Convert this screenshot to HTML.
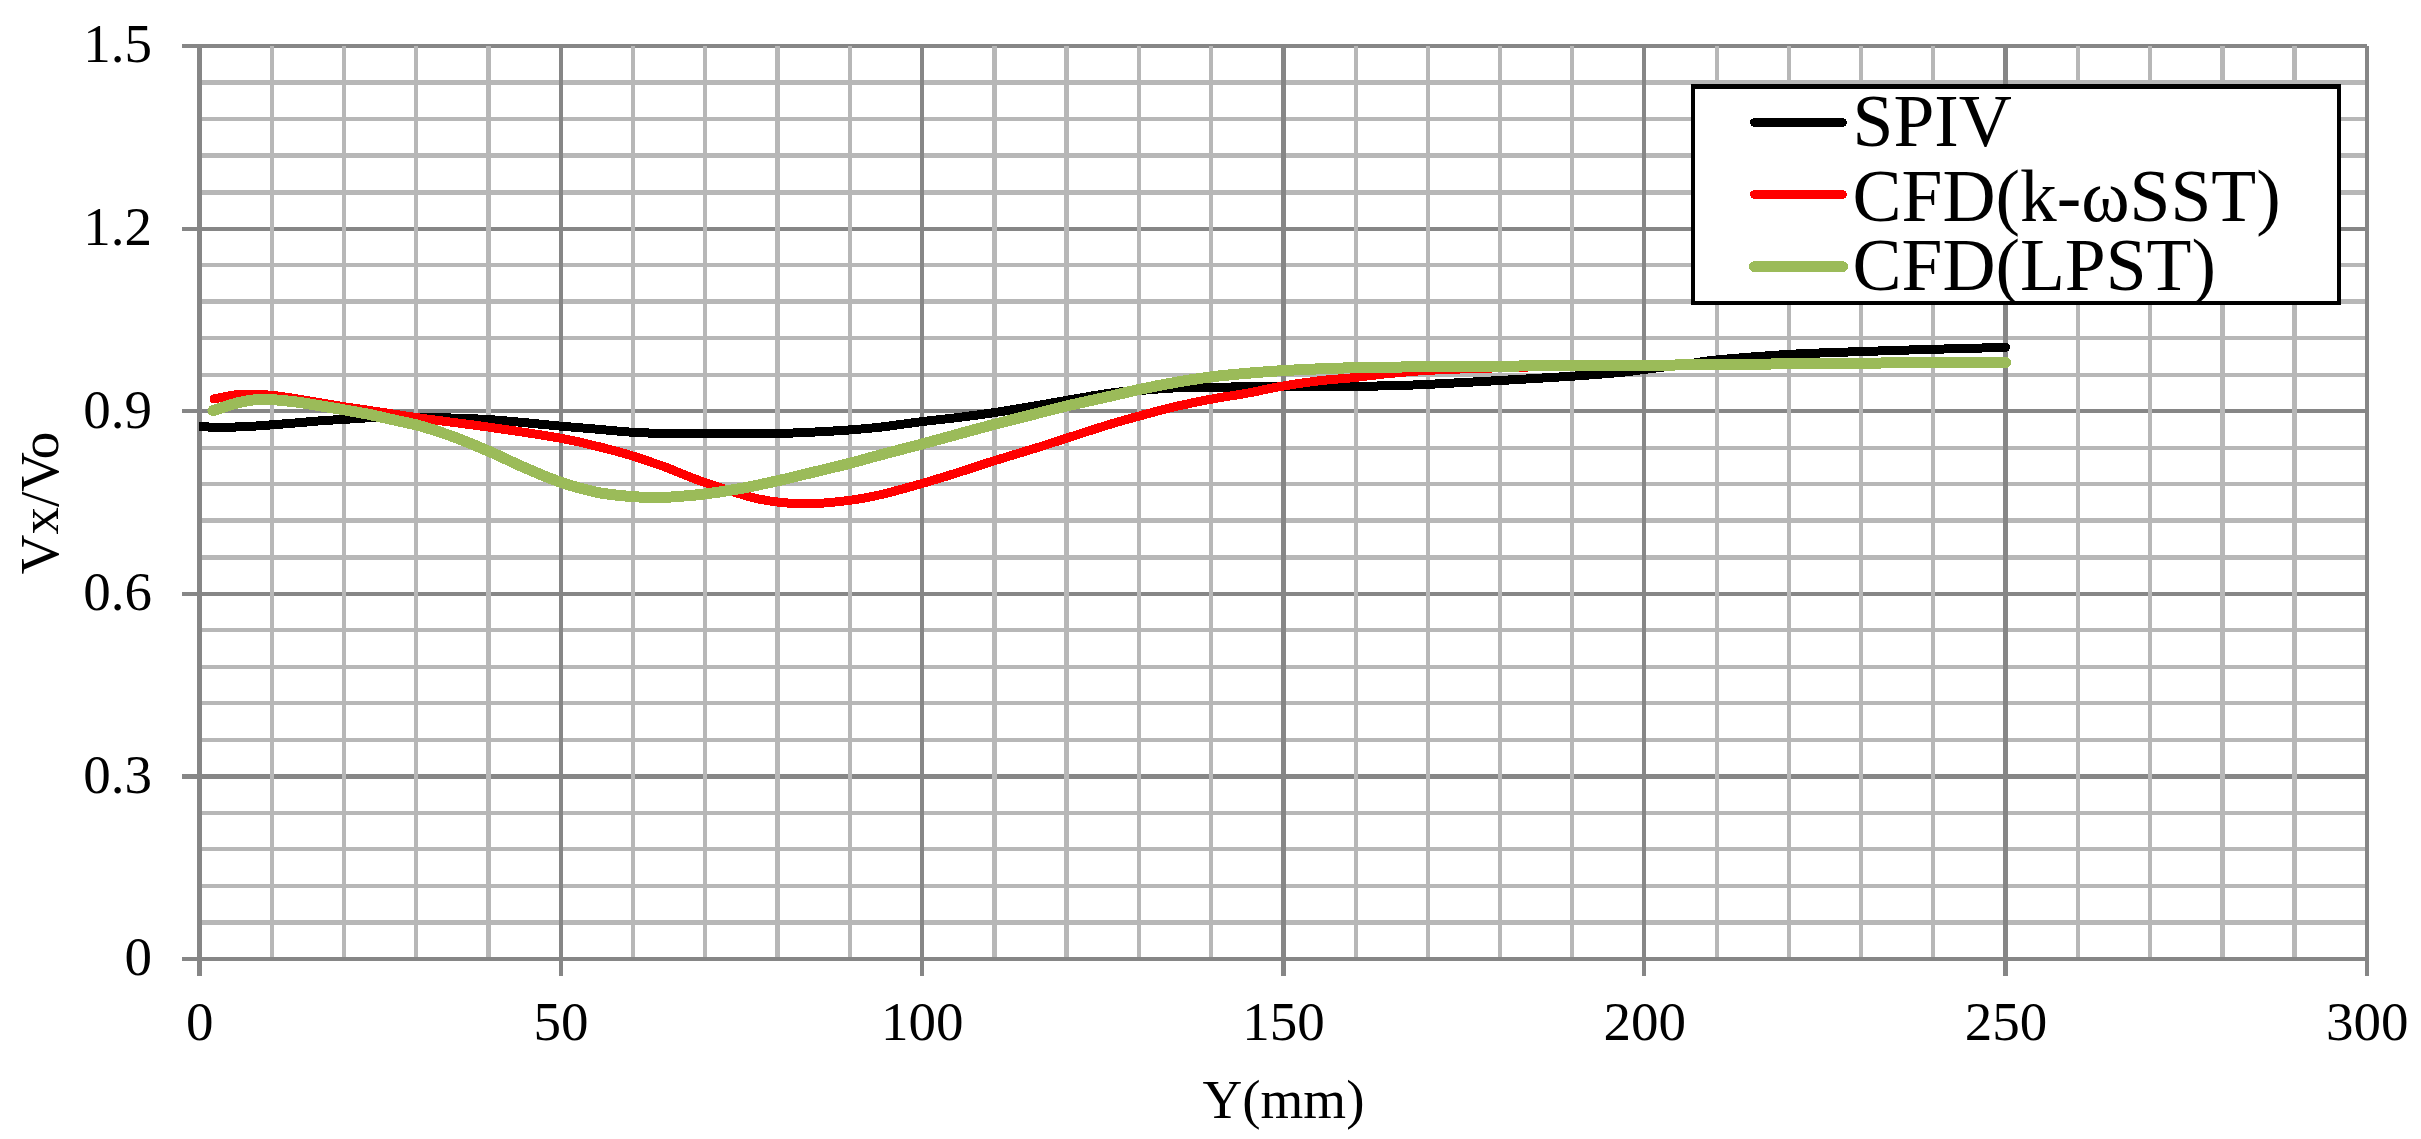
<!DOCTYPE html>
<html lang="en"><head><meta charset="utf-8"><title>Vx/Vo vs Y(mm)</title>
<style>html,body{margin:0;padding:0;background:#fff;}body{width:2421px;height:1139px;overflow:hidden;}svg{display:block;}text{font-family:"Liberation Serif",serif;fill:#000;}</style></head><body>
<svg width="2421" height="1139" viewBox="0 0 2421 1139">
<rect width="2421" height="1139" fill="#fff"/>
<g shape-rendering="crispEdges">
<g fill="#b7b7b7"><rect x="199" y="80" width="2168" height="5"/><rect x="199" y="117" width="2168" height="4"/><rect x="199" y="153" width="2168" height="5"/><rect x="199" y="190" width="2168" height="5"/><rect x="199" y="263" width="2168" height="4"/><rect x="199" y="299" width="2168" height="5"/><rect x="199" y="336" width="2168" height="4"/><rect x="199" y="373" width="2168" height="4"/><rect x="199" y="446" width="2168" height="4"/><rect x="199" y="482" width="2168" height="4"/><rect x="199" y="518" width="2168" height="5"/><rect x="199" y="555" width="2168" height="5"/><rect x="199" y="628" width="2168" height="4"/><rect x="199" y="665" width="2168" height="4"/><rect x="199" y="701" width="2168" height="4"/><rect x="199" y="738" width="2168" height="4"/><rect x="199" y="811" width="2168" height="4"/><rect x="199" y="847" width="2168" height="4"/><rect x="199" y="884" width="2168" height="4"/><rect x="199" y="920" width="2168" height="5"/></g>
<g fill="#868686"><rect x="182" y="44" width="2185" height="4"/><rect x="182" y="227" width="2185" height="4"/><rect x="182" y="409" width="2185" height="4"/><rect x="182" y="592" width="2185" height="4"/><rect x="182" y="774" width="2185" height="5"/><rect x="182" y="957" width="2185" height="4"/></g>
<g fill="#b7b7b7"><rect x="270" y="46" width="4" height="913"/><rect x="342" y="46" width="4" height="913"/><rect x="414" y="46" width="4" height="913"/><rect x="486" y="46" width="5" height="913"/><rect x="631" y="46" width="4" height="913"/><rect x="703" y="46" width="4" height="913"/><rect x="775" y="46" width="5" height="913"/><rect x="848" y="46" width="4" height="913"/><rect x="992" y="46" width="5" height="913"/><rect x="1064" y="46" width="5" height="913"/><rect x="1137" y="46" width="4" height="913"/><rect x="1209" y="46" width="4" height="913"/><rect x="1354" y="46" width="4" height="913"/><rect x="1426" y="46" width="4" height="913"/><rect x="1498" y="46" width="4" height="913"/><rect x="1570" y="46" width="4" height="913"/><rect x="1715" y="46" width="4" height="913"/><rect x="1787" y="46" width="4" height="913"/><rect x="1859" y="46" width="4" height="913"/><rect x="1931" y="46" width="4" height="913"/><rect x="2076" y="46" width="4" height="913"/><rect x="2148" y="46" width="4" height="913"/><rect x="2220" y="46" width="5" height="913"/><rect x="2292" y="46" width="5" height="913"/></g>
<g fill="#868686"><rect x="197" y="44" width="5" height="932"/><rect x="559" y="46" width="4" height="930"/><rect x="920" y="46" width="4" height="930"/><rect x="1281" y="46" width="5" height="930"/><rect x="1642" y="46" width="4" height="930"/><rect x="2003" y="46" width="5" height="930"/><rect x="2365" y="46" width="4" height="930"/><rect x="199" y="957" width="2168" height="4"/></g>
</g>
<defs><clipPath id="plot"><rect x="199" y="46" width="2170" height="913"/></clipPath></defs>
<g fill="none" stroke-linecap="round" stroke-linejoin="round" clip-path="url(#plot)" shape-rendering="crispEdges">
<path stroke="#000" stroke-width="9" d="M199.50,426.50C203.18,426.65 212.65,427.45 221.60,427.40C230.55,427.35 244.77,426.63 253.20,426.20C261.63,425.77 265.17,425.33 272.20,424.80C279.23,424.27 287.33,423.67 295.40,423.00C303.47,422.33 312.53,421.40 320.60,420.80C328.67,420.20 335.72,419.90 343.80,419.40C351.88,418.90 360.57,418.20 369.10,417.80C377.63,417.40 386.52,417.10 395.00,417.00C403.48,416.90 404.42,416.77 420.00,417.20C435.58,417.63 464.97,418.10 488.50,419.60C512.03,421.10 543.12,424.60 561.20,426.20C579.28,427.80 585.07,428.18 597.00,429.20C608.93,430.22 622.30,431.62 632.80,432.30C643.30,432.98 648.00,433.07 660.00,433.30C672.00,433.53 691.53,433.62 704.80,433.70C718.07,433.78 727.48,433.83 739.60,433.80C751.72,433.77 765.22,433.78 777.50,433.50C789.78,433.22 801.18,432.70 813.30,432.10C825.42,431.50 839.08,430.72 850.20,429.90C861.32,429.08 868.02,428.58 880.00,427.20C891.98,425.82 908.93,423.23 922.10,421.60C935.27,419.97 946.88,418.92 959.00,417.40C971.12,415.88 981.63,414.50 994.80,412.50C1007.97,410.50 1026.05,407.42 1038.00,405.40C1049.95,403.38 1054.20,402.48 1066.50,400.40C1078.80,398.32 1098.40,394.65 1111.80,392.90C1125.20,391.15 1136.67,390.72 1146.90,389.90C1157.13,389.08 1162.50,388.45 1173.20,388.00C1183.90,387.55 1198.80,387.38 1211.10,387.20C1223.40,387.02 1234.88,387.00 1247.00,386.90C1259.12,386.80 1271.52,386.68 1283.80,386.60C1296.08,386.52 1308.67,386.43 1320.70,386.40C1332.73,386.37 1344.45,386.52 1356.00,386.40C1367.55,386.28 1378.02,386.03 1390.00,385.70C1401.98,385.37 1409.60,385.27 1427.90,384.40C1446.20,383.53 1475.73,381.87 1499.80,380.50C1523.87,379.13 1552.27,377.53 1572.30,376.20C1592.33,374.87 1608.18,373.60 1620.00,372.50C1631.82,371.40 1635.45,370.58 1643.20,369.60C1650.95,368.62 1658.70,367.60 1666.50,366.60C1674.30,365.60 1681.58,364.72 1690.00,363.60C1698.42,362.48 1700.43,361.43 1717.00,359.90C1733.57,358.37 1765.57,355.78 1789.40,354.40C1813.23,353.02 1836.08,352.45 1860.00,351.60C1883.92,350.75 1908.65,350.00 1932.90,349.30C1957.15,348.60 1993.40,347.72 2005.50,347.40"/>
<path stroke="#f00" stroke-width="9" d="M214.00,398.90C217.90,398.17 230.87,395.28 237.40,394.50C243.93,393.72 247.40,394.05 253.20,394.20C259.00,394.35 265.17,394.67 272.20,395.40C279.23,396.13 287.33,397.35 295.40,398.60C303.47,399.85 312.53,401.55 320.60,402.90C328.67,404.25 335.72,405.45 343.80,406.70C351.88,407.95 359.62,408.98 369.10,410.40C378.58,411.82 390.68,413.72 400.70,415.20C410.72,416.68 414.57,417.32 429.20,419.30C443.83,421.28 466.50,423.93 488.50,427.10C510.50,430.27 543.45,435.18 561.20,438.30C578.95,441.42 586.42,443.80 595.00,445.80C603.58,447.80 606.40,448.60 612.70,450.30C619.00,452.00 626.95,454.22 632.80,456.00C638.65,457.78 642.37,459.15 647.80,461.00C653.23,462.85 659.55,464.90 665.40,467.10C671.25,469.30 676.33,471.63 682.90,474.20C689.47,476.77 695.35,479.23 704.80,482.50C714.25,485.77 731.17,491.17 739.60,493.80C748.03,496.43 749.08,496.93 755.40,498.30C761.72,499.67 768.73,501.07 777.50,502.00C786.27,502.93 795.88,504.18 808.00,503.90C820.12,503.62 838.20,501.82 850.20,500.30C862.20,498.78 868.02,497.60 880.00,494.80C891.98,492.00 908.93,487.27 922.10,483.50C935.27,479.73 946.88,476.02 959.00,472.20C971.12,468.38 981.63,464.73 994.80,460.60C1007.97,456.47 1026.05,451.13 1038.00,447.40C1049.95,443.67 1054.50,442.05 1066.50,438.20C1078.50,434.35 1097.92,427.98 1110.00,424.30C1122.08,420.62 1128.47,418.97 1139.00,416.10C1149.53,413.23 1161.18,409.92 1173.20,407.10C1185.22,404.28 1198.80,401.52 1211.10,399.20C1223.40,396.88 1234.88,395.42 1247.00,393.20C1259.12,390.98 1271.52,388.00 1283.80,385.90C1296.08,383.80 1309.67,381.92 1320.70,380.60C1331.73,379.28 1338.58,379.18 1350.00,378.00C1361.42,376.82 1376.22,374.77 1389.20,373.50C1402.18,372.23 1413.57,371.23 1427.90,370.40C1442.23,369.57 1454.85,369.15 1475.20,368.50C1495.55,367.85 1525.87,366.98 1550.00,366.50C1574.13,366.02 1592.17,365.88 1620.00,365.60C1647.83,365.32 1688.77,365.08 1717.00,364.80C1745.23,364.52 1765.57,364.15 1789.40,363.90C1813.23,363.65 1836.08,363.50 1860.00,363.30C1883.92,363.10 1908.65,362.83 1932.90,362.70C1957.15,362.57 1993.40,362.53 2005.50,362.50"/>
<path stroke="#9bbb59" stroke-width="11" d="M213.00,410.60C217.07,409.32 230.70,404.67 237.40,402.90C244.10,401.13 248.82,400.58 253.20,400.00C257.58,399.42 260.53,399.47 263.70,399.40C266.87,399.33 266.92,399.18 272.20,399.60C277.48,400.02 287.33,400.87 295.40,401.90C303.47,402.93 312.53,404.48 320.60,405.80C328.67,407.12 335.72,408.37 343.80,409.80C351.88,411.23 359.62,412.45 369.10,414.40C378.58,416.35 392.22,419.60 400.70,421.50C409.18,423.40 411.52,423.37 420.00,425.80C428.48,428.23 440.18,431.88 451.60,436.10C463.02,440.32 476.20,445.78 488.50,451.10C500.80,456.42 513.28,462.78 525.40,468.00C537.52,473.22 548.92,478.28 561.20,482.40C573.48,486.52 587.17,490.33 599.10,492.70C611.03,495.07 622.65,495.80 632.80,496.60C642.95,497.40 652.75,497.50 660.00,497.50C667.25,497.50 668.83,497.18 676.30,496.60C683.77,496.02 694.25,495.32 704.80,494.00C715.35,492.68 727.48,490.90 739.60,488.70C751.72,486.50 765.22,483.55 777.50,480.80C789.78,478.05 801.18,475.13 813.30,472.20C825.42,469.27 839.08,466.07 850.20,463.20C861.32,460.33 868.02,458.20 880.00,455.00C891.98,451.80 908.93,447.52 922.10,444.00C935.27,440.48 946.88,437.20 959.00,433.90C971.12,430.60 981.63,427.65 994.80,424.20C1007.97,420.75 1026.05,416.23 1038.00,413.20C1049.95,410.17 1054.50,408.82 1066.50,406.00C1078.50,403.18 1097.92,399.05 1110.00,396.30C1122.08,393.55 1128.47,391.75 1139.00,389.50C1149.53,387.25 1161.18,384.90 1173.20,382.80C1185.22,380.70 1198.80,378.48 1211.10,376.90C1223.40,375.32 1234.88,374.35 1247.00,373.30C1259.12,372.25 1271.52,371.35 1283.80,370.60C1296.08,369.85 1308.67,369.28 1320.70,368.80C1332.73,368.32 1338.13,368.05 1356.00,367.70C1373.87,367.35 1403.93,366.95 1427.90,366.70C1451.87,366.45 1475.73,366.40 1499.80,366.20C1523.87,366.00 1552.27,365.63 1572.30,365.50C1592.33,365.37 1595.88,365.54 1620.00,365.40C1644.12,365.26 1688.77,364.92 1717.00,364.65C1745.23,364.38 1765.57,364.04 1789.40,363.80C1813.23,363.56 1836.08,363.40 1860.00,363.20C1883.92,363.00 1908.65,362.73 1932.90,362.60C1957.15,362.47 1993.40,362.43 2005.50,362.40"/>
</g>
<g shape-rendering="crispEdges"><rect x="1691" y="84" width="650" height="221" fill="#000"/><rect x="1695" y="89" width="642" height="212" fill="#fff"/></g>
<g fill="none" stroke-linecap="round" shape-rendering="crispEdges">
<path stroke="#000" stroke-width="9" d="M1754.5,122.5H1842.5"/>
<path stroke="#f00" stroke-width="9" d="M1754.5,194.5H1842.5"/>
<path stroke="#9bbb59" stroke-width="11" d="M1754.5,266.7H1842.5"/>
</g>
<clipPath id="lg"><rect x="1691" y="84" width="650" height="221"/></clipPath>
<g font-size="73.5" clip-path="url(#lg)">
<text x="1852.5" y="146">SPIV</text>
<text x="1852.5" y="220.5">CFD(k-ωSST)</text>
<text x="1852.5" y="290.2">CFD(LPST)</text>
</g>
<g font-size="55" text-anchor="end">
<text x="152" y="62.4">1.5</text>
<text x="152" y="245.0">1.2</text>
<text x="152" y="427.6">0.9</text>
<text x="152" y="610.2">0.6</text>
<text x="152" y="792.8">0.3</text>
<text x="152" y="975.4">0</text>
</g>
<g font-size="55" text-anchor="middle">
<text x="199.8" y="1039.7">0</text>
<text x="561.0" y="1039.7">50</text>
<text x="922.3" y="1039.7">100</text>
<text x="1283.5" y="1039.7">150</text>
<text x="1644.8" y="1039.7">200</text>
<text x="2006.0" y="1039.7">250</text>
<text x="2367.3" y="1039.7">300</text>
<text x="1283.5" y="1117.8">Y(mm)</text>
<text transform="translate(57.9,503) rotate(-90)" x="0" y="0">Vx/Vo</text>
</g>
</svg></body></html>
